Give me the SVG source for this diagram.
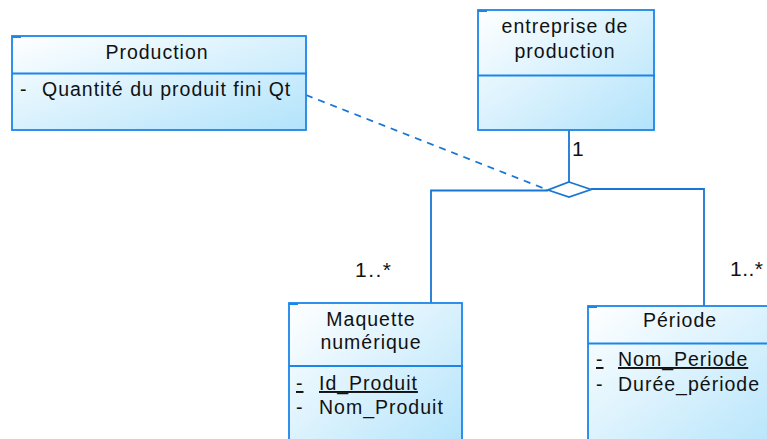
<svg xmlns="http://www.w3.org/2000/svg" width="767" height="439" viewBox="0 0 767 439">
<defs>
<linearGradient id="fill" x1="0" y1="0" x2="1" y2="1">
<stop offset="0" stop-color="#ffffff"/>
<stop offset="1" stop-color="#b2e3fb"/>
</linearGradient>
<style>
.box{fill:url(#fill);stroke:#1a86ea;stroke-width:1.8}
.div{stroke:#1a86ea;stroke-width:1.8}
.tick{stroke:#1a86ea;stroke-width:2}
.t{font-family:"Liberation Sans",Arial,sans-serif;font-size:19.5px;letter-spacing:1px;fill:#111}
.c{text-anchor:middle}
.u{text-decoration:underline}
.lbl{font-family:"Liberation Sans",Arial,sans-serif;font-size:21px;fill:#111;letter-spacing:1.5px}
.con{fill:none;stroke:#1976d2;stroke-width:1.8}
</style>
</defs>
<g id="connectors">
<line class="con" x1="306" y1="95" x2="548" y2="190" stroke-dasharray="7,6"/>
<line class="con" x1="569" y1="130" x2="569" y2="182"/>
<polyline class="con" points="548,190.5 431,190.5 431,303"/>
<polyline class="con" points="591,189 704,189 704,306"/>
<polygon fill="#ffffff" stroke="#1976d2" stroke-width="1.8" points="569,182 591,189.5 569,197 548,190"/>
<text class="lbl" x="572" y="156">1</text>
<text class="lbl" x="355" y="277">1..*</text>
<text class="lbl" x="730" y="276" style="letter-spacing:0.5px">1..*</text>
</g>
<g id="production">
<rect class="box" x="12" y="36" width="294" height="94"/>
<line class="div" x1="12" y1="73.5" x2="307" y2="73.5"/>
<line class="tick" x1="12" y1="37" x2="21" y2="37"/>
<text class="t c" x="157" y="59">Production</text>
<text class="t" x="20" y="96">-</text>
<text class="t" x="42" y="96">Quantité du produit fini Qt</text>
</g>
<g id="entreprise">
<rect class="box" x="478" y="10" width="176" height="120"/>
<line class="div" x1="478" y1="75.5" x2="655" y2="75.5"/>
<line class="tick" x1="478" y1="11" x2="487" y2="11"/>
<text class="t c" x="565" y="33">entreprise de</text>
<text class="t c" x="565" y="58">production</text>
</g>
<g id="maquette">
<rect class="box" x="289" y="303" width="173" height="150"/>
<line class="div" x1="289" y1="366" x2="463" y2="366"/>
<line class="tick" x1="289" y1="304" x2="298" y2="304"/>
<text class="t c" x="371" y="326">Maquette</text>
<text class="t c" x="371" y="349">numérique</text>
<text class="t u" x="296" y="390">-</text>
<text class="t u" x="319" y="390">Id_Produit</text>
<text class="t" x="296" y="414">-</text>
<text class="t" x="319" y="414">Nom_Produit</text>
</g>
<g id="periode">
<rect class="box" x="588" y="306" width="200" height="150"/>
<line class="div" x1="588" y1="343.5" x2="767" y2="343.5"/>
<line class="tick" x1="588" y1="307" x2="597" y2="307"/>
<text class="t c" x="680" y="327">Période</text>
<text class="t u" x="596" y="366">-</text>
<text class="t u" x="618" y="366">Nom_Periode</text>
<text class="t" x="596" y="391">-</text>
<text class="t" x="618" y="391">Durée_période</text>
</g>
</svg>
